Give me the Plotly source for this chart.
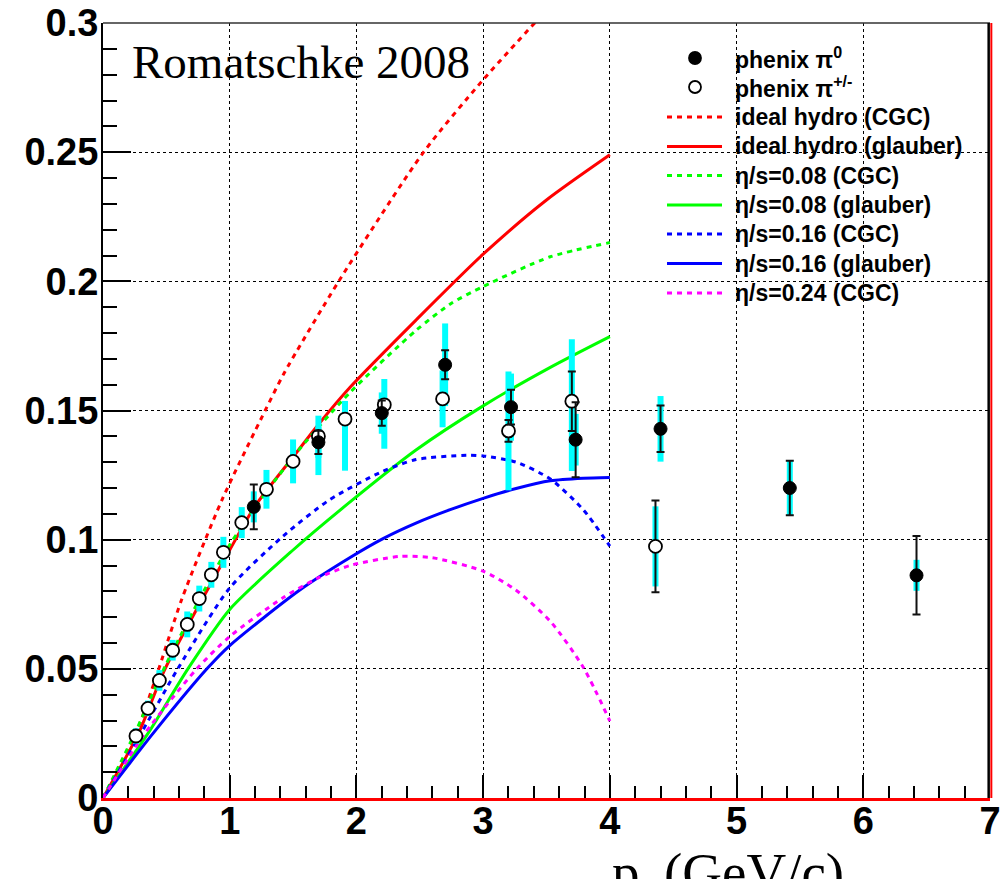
import plotly.graph_objects as go

# ---------------- data ----------------
# hydro curves (x = p_t in GeV, y = v2)
ideal_cgc_x = [0, 0.26, 0.42, 0.62, 0.94, 1.28, 1.43, 1.86, 2.53, 3.0, 3.5]
ideal_cgc_y = [0, 0.025, 0.047, 0.0767, 0.1155, 0.150, 0.1645, 0.200, 0.250, 0.278, 0.305]

ideal_glau_x = [0, 0.28, 0.49, 1.0, 1.2, 1.5, 1.7, 1.95, 2.47, 3.0, 3.5, 4.0]
ideal_glau_y = [0, 0.025, 0.050, 0.096, 0.113, 0.1320, 0.1446, 0.159, 0.185, 0.2105, 0.2315, 0.249]

cgc08_x = [0, 0.26, 0.5, 1.0, 1.5, 1.95, 2.47, 2.75, 3.0, 3.53, 4.0]
cgc08_y = [0, 0.026, 0.052, 0.098, 0.132, 0.157, 0.181, 0.1915, 0.198, 0.2095, 0.215]

glau08_x = [0, 0.355, 0.67, 1.0, 1.5, 1.95, 2.47, 3.0, 3.53, 4.0]
glau08_y = [0, 0.025, 0.050, 0.073, 0.096, 0.1146, 0.1347, 0.1518, 0.1667, 0.1786]

cgc16_x = [0, 0.30, 0.59, 1.0, 1.42, 1.79, 2.21, 2.47, 2.87, 3.0, 3.26, 3.53, 3.79, 4.0]
cgc16_y = [0, 0.025, 0.050, 0.0813, 0.1013, 0.1155, 0.1265, 0.131, 0.1327, 0.1324, 0.130, 0.1235, 0.1116, 0.0975]

glau16_x = [0, 0.395, 0.82, 1.0, 1.553, 1.947, 2.21, 2.47, 2.74, 3.0, 3.26, 3.53, 3.79, 4.0]
glau16_y = [0, 0.025, 0.050, 0.059, 0.0805, 0.093, 0.1004, 0.1064, 0.1116, 0.116, 0.1198, 0.1228, 0.1238, 0.1241]

cgc24_x = [0, 0.33, 0.74, 1.0, 1.42, 1.69, 1.95, 2.34, 2.6, 3.0, 3.26, 3.53, 3.79, 4.0]
cgc24_y = [0, 0.025, 0.050, 0.0625, 0.0775, 0.0850, 0.0900, 0.0935, 0.093, 0.0878, 0.0804, 0.0684, 0.0506, 0.0298]

# PHENIX pi0 (filled)
pi0_x = [1.19, 1.70, 2.20, 2.70, 3.22, 3.73, 4.40, 5.42, 6.42]
pi0_y = [0.1127, 0.1377, 0.1490, 0.1677, 0.1513, 0.1387, 0.1429, 0.1200, 0.0862]
pi0_stat = [0.0087, 0.0045, 0.0049, 0.0056, 0.0067, 0.0145, 0.0090, 0.0105, 0.0152]
pi0_sys = [0.006, 0.006, 0.008, 0.016, 0.013, 0.010, 0.0127, 0.0105, 0.006]

# PHENIX pi+/- (open)
pipm_x = [0.26, 0.355, 0.445, 0.55, 0.665, 0.76, 0.855, 0.95, 1.095, 1.29, 1.50, 1.70,
          1.91, 2.22, 2.68, 3.20, 3.70, 4.36]
pipm_y = [0.0240, 0.0347, 0.0455, 0.0572, 0.0672, 0.0772, 0.0864, 0.0951, 0.1066, 0.1195,
          0.1303, 0.1400, 0.1467, 0.1522, 0.1545, 0.1421, 0.1536, 0.0974]
pipm_stat = [0.001, 0.001, 0.001, 0.001, 0.001, 0.001, 0.001, 0.001, 0.001, 0.001,
             0.001, 0.001, 0.001, 0.002, 0.002, 0.0042, 0.0115, 0.0178]
pipm_sys_up = [0.003, 0.003, 0.004, 0.004, 0.005, 0.005, 0.005, 0.006, 0.006, 0.0075,
               0.0085, 0.008, 0.007, 0.010, 0.011, 0.023, 0.024, 0.0155]
pipm_sys_dn = [0.003, 0.003, 0.004, 0.004, 0.005, 0.005, 0.005, 0.006, 0.006, 0.0075,
               0.0085, 0.015, 0.020, 0.017, 0.011, 0.023, 0.027, 0.0155]

# legend labels (in display order)
legend_labels = ["phenix π<sup>0</sup>", "phenix π<sup>+/-</sup>",
                 "ideal hydro (CGC)", "ideal hydro (glauber)",
                 "η/s=0.08 (CGC)", "η/s=0.08 (glauber)",
                 "η/s=0.16 (CGC)", "η/s=0.16 (glauber)", "η/s=0.24 (CGC)"]

curves = [
    (ideal_cgc_x, ideal_cgc_y, "#ff0000", "5px,5px"),
    (ideal_glau_x, ideal_glau_y, "#ff0000", "solid"),
    (cgc08_x, cgc08_y, "#00ff00", "5px,5px"),
    (glau08_x, glau08_y, "#00ff00", "solid"),
    (cgc16_x, cgc16_y, "#0000ff", "5px,5px"),
    (glau16_x, glau16_y, "#0000ff", "solid"),
    (cgc24_x, cgc24_y, "#ff00ff", "5px,5px"),
]

# ---------------- figure ----------------
W, H = 1001, 879
ML, MR, MT, MB = 103, 11, 23, 81
PW, PH = W - ML - MR, H - MT - MB


def px2paper(px, py):
    return (px - ML) / PW, (H - MB - py) / PH


fig = go.Figure()

for i, (xs, ys, col, dash) in enumerate(curves):
    fig.add_trace(go.Scatter(
        x=xs, y=ys, mode="lines", name=legend_labels[i + 2], showlegend=False,
        line=dict(color=col, width=3, dash=dash, shape="spline", smoothing=0.7),
    ))

# systematic (cyan) bars
fig.add_trace(go.Scatter(
    x=pipm_x, y=pipm_y, mode="markers", showlegend=False, hoverinfo="skip",
    marker=dict(size=1, opacity=0),
    error_y=dict(type="data", symmetric=False, array=pipm_sys_up, arrayminus=pipm_sys_dn,
                 color="#00ffff", thickness=6, width=0),
))
fig.add_trace(go.Scatter(
    x=pi0_x, y=pi0_y, mode="markers", showlegend=False, hoverinfo="skip",
    marker=dict(size=1, opacity=0),
    error_y=dict(type="data", array=pi0_sys, color="#00ffff", thickness=6, width=0),
))

# data points
fig.add_trace(go.Scatter(
    x=pipm_x, y=pipm_y, mode="markers", name=legend_labels[1], showlegend=False,
    marker=dict(symbol="circle", size=13, color="white", line=dict(color="black", width=1.8)),
    error_y=dict(type="data", array=pipm_stat, color="#111111", thickness=2, width=4),
))
fig.add_trace(go.Scatter(
    x=pi0_x, y=pi0_y, mode="markers", name=legend_labels[0], showlegend=False,
    marker=dict(symbol="circle", size=13, color="black", line=dict(color="black", width=1)),
    error_y=dict(type="data", array=pi0_stat, color="#111111", thickness=2, width=4),
))

tickfont = dict(family="Liberation Sans, Arial, sans-serif", size=38, color="black", weight="bold")

fig.update_xaxes(
    range=[0, 7], dtick=1, tick0=0, automargin=False,
    showline=True, linecolor="#ff0000", linewidth=3, mirror=False,
    ticks="inside", ticklen=23, tickwidth=2, tickcolor="black",
    minor=dict(dtick=0.2, ticks="inside", ticklen=12, tickwidth=1.5, tickcolor="black", showgrid=False),
    showgrid=True, gridcolor="black", gridwidth=1, griddash="dot",
    zeroline=False, tickfont=tickfont, ticklabelstandoff=-13,
)
fig.update_yaxes(
    range=[0, 0.3], dtick=0.05, tick0=0, automargin=False,
    showline=True, linecolor="black", linewidth=2, mirror=False,
    ticks="inside", ticklen=28, tickwidth=2, tickcolor="black",
    minor=dict(dtick=0.01, ticks="inside", ticklen=14, tickwidth=1.5, tickcolor="black", showgrid=False),
    showgrid=True, gridcolor="black", gridwidth=1, griddash="dot",
    zeroline=False, tickfont=tickfont, ticklabelstandoff=-5,
)

# frame: top black, right black + red
fig.add_shape(type="line", xref="paper", yref="paper", x0=0, x1=1, y0=1, y1=1,
              line=dict(color="#333333", width=1.5))
fig.add_shape(type="line", xref="paper", yref="paper", x0=0.9985, x1=0.9985, y0=0, y1=1,
              line=dict(color="black", width=2.5))
fig.add_shape(type="line", xref="paper", yref="paper", x0=1.0015, x1=1.0015, y0=0, y1=1,
              line=dict(color="#ff0000", width=2))

# ---------------- legend (drawn box) ----------------
lg_x0, lg_y0 = px2paper(657, 40)
lg_x1, lg_y1 = px2paper(968, 310)
fig.add_shape(type="rect", xref="paper", yref="paper", x0=lg_x0, x1=lg_x1, y0=lg_y1, y1=lg_y0,
              fillcolor="white", line=dict(width=0), layer="between")

row_py = [58, 87, 117, 146.5, 175.5, 205, 234, 263.5, 293]
sample_x0, sample_x1, marker_px, text_px = 667, 722, 695, 733
legend_font = dict(family="Liberation Sans, Arial, sans-serif", size=23, color="black", weight="bold")

for k, label in enumerate(legend_labels):
    xt, yt = px2paper(text_px, row_py[k])
    fig.add_annotation(text=label, xref="paper", yref="paper", x=xt, y=yt,
                       xanchor="left", yanchor="middle", showarrow=False, font=legend_font)
    if k < 2:
        xm, ym = px2paper(marker_px, row_py[k])
        fig.add_shape(type="circle", xref="paper", yref="paper",
                      xsizemode="pixel", ysizemode="pixel", xanchor=xm, yanchor=ym,
                      x0=-6, x1=6, y0=-6, y1=6,
                      fillcolor="black" if k == 0 else "white",
                      line=dict(color="black", width=1.8))
    else:
        col, dash = curves[k - 2][2], curves[k - 2][3]
        xa, ya = px2paper(sample_x0, row_py[k])
        xb, _ = px2paper(sample_x1, row_py[k])
        fig.add_shape(type="line", xref="paper", yref="paper", x0=xa, x1=xb, y0=ya, y1=ya,
                      line=dict(color=col, width=3, dash=dash))

# ---------------- texts ----------------
fig.add_annotation(text="Romatschke 2008", xref="paper", yref="paper", x=px2paper(130, 0)[0],
                   y=px2paper(0, 62)[1], xanchor="left", yanchor="middle", showarrow=False,
                   font=dict(family="Liberation Serif, Times New Roman, serif", size=47, color="black"))
fig.add_annotation(text="p<sub>t</sub> (GeV/c)", xref="paper", yref="paper", x=px2paper(728, 0)[0],
                   y=px2paper(0, 876)[1], xanchor="center", yanchor="middle", showarrow=False,
                   font=dict(family="Liberation Serif, Times New Roman, serif", size=55, color="black"))

fig.update_layout(
    width=W, height=H,
    margin=dict(l=ML, r=MR, t=MT, b=MB),
    paper_bgcolor="white", plot_bgcolor="white",
    showlegend=False,
)

fig.write_html("out.html")
